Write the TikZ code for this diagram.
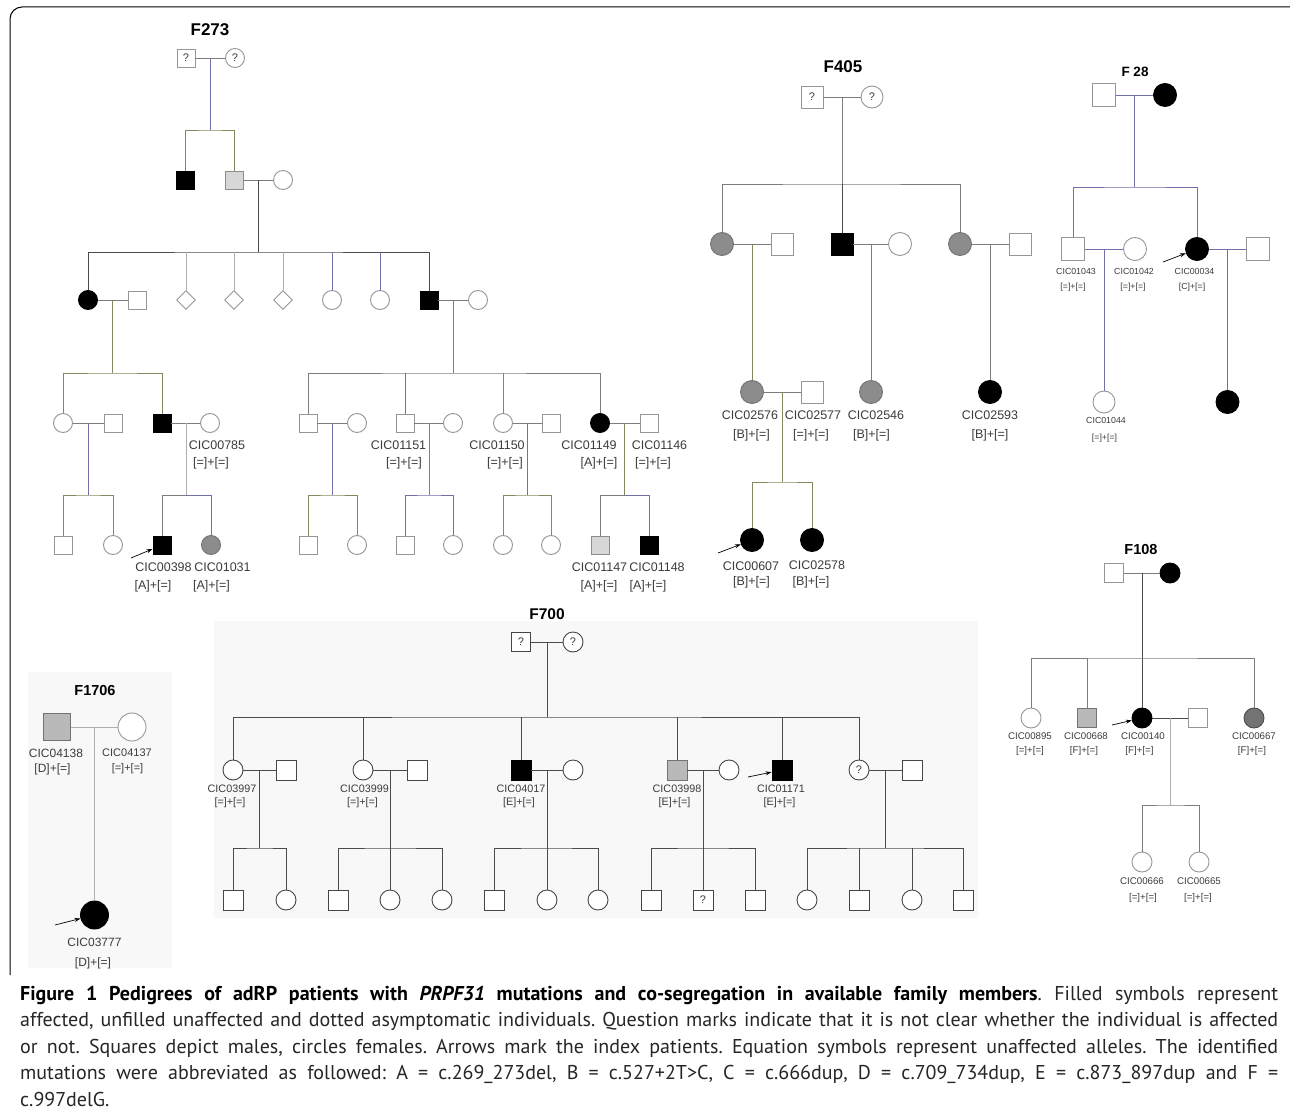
\documentclass[tikz,border=0pt]{standalone}
\usepackage{fontspec}
\setmainfont{Liberation Sans}
\newfontfamily\capfont{PT Sans}
\usetikzlibrary{shapes.geometric,arrows.meta}
\definecolor{symc}{RGB}{150,150,150}
\definecolor{symd}{RGB}{70,70,70}
\definecolor{lng}{RGB}{125,125,125}
\definecolor{lnb}{RGB}{112,112,170}
\definecolor{lno}{RGB}{135,135,95}
\definecolor{lnd}{RGB}{75,75,75}
\definecolor{lnl}{RGB}{175,175,175}
\definecolor{gA}{RGB}{140,140,140}
\definecolor{gB}{RGB}{185,185,185}
\definecolor{gC}{RGB}{215,215,215}
\definecolor{gD}{RGB}{115,115,115}
\definecolor{labc}{RGB}{60,60,60}
\definecolor{panel}{RGB}{248,248,248}
\newcommand\plab[8]{%
  \node[lab=#2] (#1i) at (#3,#4) {#5};
  \node[lab=#2] (#1g) at (#6,#7) {#8};}
\begin{document}
\frenchspacing
\begin{tikzpicture}[x=1pt,y=-1pt,
  ind/.style={draw=symc, fill=white, line width=0.9pt, inner sep=0pt, text=labc, font=\fontsize{11}{11}\selectfont},
  male/.style={ind, rectangle, minimum size=#1},
  fem/.style={ind, circle, minimum size=#1},
  unk/.style={ind, diamond, aspect=1, minimum size=#1},
  aff/.style={fill=black, draw=black},
  grA/.style={fill=gA, draw=gD},
  grB/.style={fill=gB, draw=gD},
  grC/.style={fill=gC, draw=gA},
  grD/.style={fill=gD, draw=lnd},
  rel/.style={draw=lng, line width=0.9pt},
  rb/.style={rel, draw=lnb},
  ro/.style={rel, draw=lno},
  rd/.style={rel, draw=lnd},
  rl/.style={rel, draw=lnl},
  lab/.style={font=\fontsize{#1}{#1}\selectfont, text=labc, inner sep=0pt},
  ttl/.style={font=\bfseries\fontsize{#1}{#1}\selectfont, inner sep=0pt},
  idx/.style={draw=black, line width=0.7pt, -{Stealth[length=6pt,width=4pt]}},
  capl/.style={anchor=base west, inner sep=0pt, text=black!85, font={\capfont\fontsize{20}{24}\selectfont}}
]
\useasboundingbox (0,0) rectangle (1290,1115);
\fill[white] (0,0) rectangle (1290,1115);
% panels
\fill[panel] (214,621) rectangle (978,918);
\fill[panel] (28,672) rectangle (172,968);
% frame
\draw[line width=1pt, rounded corners=12pt] (10,975) -- (10,7) -- (1290,7);

%================ F273 =================
\node[ttl=17] (t273) at (210,30) {F273};
\node[male=18pt] (a1) at (186,58) {?};
\node[fem=19pt] (a2) at (235,58) {?};
\draw[rel] (a1) -- (a2);
\coordinate (a12) at (210.5,58);
\coordinate (sa) at (210.5,130);
\draw[rb] (a12) -- (sa);
\node[male=18pt,aff] (b1) at (185,180) {};
\node[male=18pt,grC] (b2) at (234,180) {};
\node[fem=19pt] (b3) at (283,180) {};
\draw[ro] (b1) |- (sa) -| (b2);
\draw[rel] (b2) -- (b3);
\coordinate (b23) at (258.5,180);
\coordinate (sb) at (258.5,252);
\draw[rd] (b23) -- (sb);
\node[fem=19pt,aff] (c1) at (88,300) {};
\node[male=18pt] (c2) at (137,300) {};
\node[unk=19pt] (c3) at (186,300) {};
\node[unk=19pt] (c4) at (234,300) {};
\node[unk=19pt] (c5) at (283,300) {};
\node[fem=19pt] (c6) at (332,300) {};
\node[fem=19pt] (c7) at (380,300) {};
\node[male=18pt,aff] (c8) at (429,300) {};
\node[fem=19pt] (c9) at (478,300) {};
\draw[rd] (c1) |- (sb) -| (c8);
\draw[rl] (c3) -- (c3 |- sb);
\draw[rl] (c4) -- (c4 |- sb);
\draw[rl] (c5) -- (c5 |- sb);
\draw[rb] (c6) -- (c6 |- sb);
\draw[rb] (c7) -- (c7 |- sb);
\draw[rel] (c1) -- (c2);
\draw[rel] (c8) -- (c9);
\coordinate (c12) at (112.5,300);
\coordinate (sc) at (112.5,373);
\draw[ro] (c12) -- (sc);
\coordinate (c89) at (453.5,300);
\coordinate (sd) at (453.5,373);
\draw[ro] (c89) -- (sd);
% gen IV left
\node[fem=19pt] (e1) at (63,423) {};
\node[male=18pt] (e2) at (113,423) {};
\node[male=18pt,aff] (e3) at (162,423) {};
\node[fem=19pt] (e4) at (210,423) {};
\draw[ro] (e1) |- (sc) -| (e3);
\draw[rel] (e1) -- (e2);
\draw[rel] (e3) -- (e4);
\coordinate (e12) at (88,423);
\coordinate (se) at (88,495);
\draw[rb] (e12) -- (se);
\coordinate (e34) at (186,423);
\coordinate (sf) at (186,495);
\draw[rl] (e34) -- (sf);
\node[male=18pt] (f1) at (63,545) {};
\node[fem=19pt] (f2) at (113,545) {};
\draw[ro] (f1) |- (se) -| (f2);
\node[male=18pt,aff] (f3) at (162,545) {};
\node[fem=19pt,grA] (f4) at (211,545) {};
\draw[rel] (f3) |- (sf);
\draw[rb] (sf) -| (f4);
% gen IV right
\node[male=18pt] (g1) at (308,423) {};
\node[fem=19pt] (g2) at (357,423) {};
\node[male=18pt] (g3) at (405,423) {};
\node[fem=19pt] (g4) at (453,423) {};
\node[fem=19pt] (g5) at (503,423) {};
\node[male=18pt] (g6) at (551,423) {};
\node[fem=19pt,aff] (g7) at (600,423) {};
\node[male=18pt] (g8) at (649,423) {};
\draw[rel] (g1) |- (sd) -| (g7);
\draw[rb] (g3) -- (g3 |- sd);
\draw[ro] (g5) -- (g5 |- sd);
\draw[rel] (g1) -- (g2);
\draw[rel] (g3) -- (g4);
\draw[rel] (g5) -- (g6);
\draw[rel] (g7) -- (g8);
\coordinate (g12) at (332.5,423);
\coordinate (sg) at (332.5,495);
\draw[rb] (g12) -- (sg);
\coordinate (g34) at (429,423);
\coordinate (sh) at (429,495);
\draw[ro] (g34) -- (sh);
\coordinate (g56) at (527,423);
\coordinate (si) at (527,495);
\draw[rb] (g56) -- (si);
\coordinate (g78) at (624.5,423);
\coordinate (sj) at (624.5,495);
\draw[ro] (g78) -- (sj);
\node[male=18pt] (h1) at (308,545) {};
\node[fem=19pt] (h2) at (357,545) {};
\node[male=18pt] (h3) at (405,545) {};
\node[fem=19pt] (h4) at (453,545) {};
\node[fem=19pt] (h5) at (503,545) {};
\node[fem=19pt] (h6) at (551,545) {};
\node[male=18pt,grC] (h7) at (600,545) {};
\node[male=18pt,aff] (h8) at (649,545) {};
\draw[ro] (h1) |- (sg) -| (h2);
\draw[rb] (h3) |- (sh) -| (h4);
\draw[ro] (h5) |- (si) -| (h6);
\draw[rel] (h7) |- (sj);
\draw[rb] (sj) -| (h8);
\coordinate (ar1) at (131,558);
\draw[idx] (ar1) -- (f3);
\plab{L1}{12.5}{217}{445}{CIC00785}{211}{463}{[=]+[=]}
\plab{L2}{12.5}{398.5}{445}{CIC01151}{404}{463}{[=]+[=]}
\plab{L3}{12.5}{497}{445}{CIC01150}{505}{463}{[=]+[=]}
\plab{L4}{12.5}{589}{445}{CIC01149}{599}{463}{[A]+[=]}
\plab{L5}{12.5}{659.5}{445}{CIC01146}{653}{463}{[=]+[=]}
\plab{L6}{12.5}{163.5}{567}{CIC00398}{153}{586}{[A]+[=]}
\plab{L7}{12.5}{222.5}{567}{CIC01031}{211.5}{586}{[A]+[=]}
\plab{L8}{12.5}{599.5}{567}{CIC01147}{599}{586}{[A]+[=]}
\plab{L9}{12.5}{657}{567}{CIC01148}{648}{586}{[A]+[=]}

%================ F405 =================
\node[ttl=17] (t405) at (843,67) {F405};
\node[male=22pt] (p1) at (812,97) {?};
\node[fem=22pt] (p2) at (872,97) {?};
\draw[rel] (p1) -- (p2);
\coordinate (p12) at (842,97);
\coordinate (sp) at (842,184);
\draw[rel] (p12) -- (sp);
\node[fem=23pt,grA] (q1) at (722,244) {};
\node[male=22pt] (q2) at (782,244) {};
\node[male=22pt,aff] (q3) at (842,244) {};
\node[fem=23pt] (q4) at (900,244) {};
\node[fem=23pt,grA] (q5) at (960,244) {};
\node[male=22pt] (q6) at (1020,244) {};
\draw[rel] (q1) |- (sp) -| (q5);
\draw[rd] (q3) -- (q3 |- sp);
\draw[rel] (q1) -- (q2);
\draw[rel] (q3) -- (q4);
\draw[rel] (q5) -- (q6);
\coordinate (q12) at (752,244);
\coordinate (q34) at (871,244);
\coordinate (q56) at (990,244);
\node[fem=23pt,grA] (r1) at (752,392) {};
\node[male=22pt] (r2) at (812,392) {};
\node[fem=23pt,grA] (r3) at (871,392) {};
\node[fem=23pt,aff] (r4) at (990,392) {};
\draw[ro] (q12) -- (r1);
\draw[rel] (q34) -- (r3);
\draw[rel] (q56) -- (r4);
\draw[rel] (r1) -- (r2);
\coordinate (r12) at (782,392);
\coordinate (sr) at (782,482);
\draw[ro] (r12) -- (sr);
\node[fem=23pt,aff] (u1) at (752,540) {};
\node[fem=23pt,aff] (u2) at (812,540) {};
\draw[ro] (u1) |- (sr) -| (u2);
\coordinate (ar2) at (718,553);
\draw[idx] (ar2) -- (u1);
\plab{M1}{12.5}{750}{415}{CIC02576}{751.5}{435}{[B]+[=]}
\plab{M2}{12.5}{813}{415}{CIC02577}{811}{435}{[=]+[=]}
\plab{M3}{12.5}{876}{415}{CIC02546}{871.5}{435}{[B]+[=]}
\plab{M4}{12.5}{990}{415}{CIC02593}{990}{435}{[B]+[=]}
\plab{M5}{12.5}{751}{566}{CIC00607}{751.5}{582}{[B]+[=]}
\plab{M6}{12.5}{817}{565}{CIC02578}{811}{582}{[B]+[=]}

%================ F 28 =================
\node[ttl=13.5] (t28) at (1135,72) {F 28};
\node[male=23pt] (v1) at (1104,95) {};
\node[fem=23pt,aff] (v2) at (1165,95) {};
\draw[rb] (v1) -- (v2);
\coordinate (v12) at (1134.5,95);
\coordinate (sv) at (1134.5,187);
\draw[rb] (v12) -- (sv);
\node[male=23pt] (w1) at (1073,249) {};
\node[fem=23pt] (w2) at (1135,249) {};
\node[fem=23pt,aff] (w3) at (1197,249) {};
\node[male=23pt] (w4) at (1258,249) {};
\draw[rb] (w1) |- (sv) -| (w3);
\draw[rb] (w1) -- (w2);
\draw[rb] (w3) -- (w4);
\coordinate (w12) at (1104,249);
\coordinate (w34) at (1227.5,249);
\node[fem=22pt] (x1) at (1104,402) {};
\node[fem=23pt,aff] (x2) at (1227.5,402) {};
\draw[rb] (w12) -- (x1);
\draw[rb] (w34) -- (x2);
\coordinate (ar3) at (1163,262);
\draw[idx] (ar3) -- (w3);
\plab{N1}{8.8}{1076}{271}{CIC01043}{1073}{287}{[=]+[=]}
\plab{N2}{8.8}{1134}{271}{CIC01042}{1133}{287}{[=]+[=]}
\plab{N3}{8.8}{1194.5}{271}{CIC00034}{1192}{287}{[C]+[=]}
\plab{N4}{8.8}{1106}{420}{CIC01044}{1104.5}{438}{[=]+[=]}

%================ F108 =================
\node[ttl=14.5] (t108) at (1141,550) {F108};
\node[male=19pt] (y1) at (1114,573) {};
\node[fem=20pt,aff] (y2) at (1170,573) {};
\draw[rel] (y1) -- (y2);
\coordinate (y12) at (1142,573);
\coordinate (sy) at (1142,658);
\node[fem=20pt] (z1) at (1031,718) {};
\node[male=19pt,grB] (z2) at (1087,718) {};
\node[fem=20pt,aff] (z3) at (1142,718) {};
\node[male=19pt] (z4) at (1198,718) {};
\node[fem=20pt,grD] (z5) at (1254,718) {};
\draw[rd] (y12) -- (z3);
\draw[rel] (z1) |- (sy) -| (z5);
\draw[rel] (z2) -- (z2 |- sy);
\draw[rd] (z3) -- (z4);
\coordinate (z34) at (1170,718);
\coordinate (sz) at (1170,805);
\draw[rl] (z34) -- (sz);
\node[fem=20pt] (zz1) at (1142,862) {};
\node[fem=20pt] (zz2) at (1199,862) {};
\draw[rel] (zz1) |- (sz) -| (zz2);
\coordinate (ar4) at (1112,725);
\draw[idx] (ar4) -- (z3);
\plab{P1}{9.7}{1030}{736}{CIC00895}{1030}{751}{[=]+[=]}
\plab{P2}{9.7}{1086}{736}{CIC00668}{1084}{751}{[F]+[=]}
\plab{P3}{9.7}{1143}{736}{CIC00140}{1139.5}{751}{[F]+[=]}
\plab{P4}{9.7}{1254}{736}{CIC00667}{1252}{751}{[F]+[=]}
\plab{P5}{9.7}{1142}{881}{CIC00666}{1143}{898}{[=]+[=]}
\plab{P6}{9.7}{1199}{881}{CIC00665}{1198}{898}{[=]+[=]}

%================ F1706 =================
\node[ttl=14.5] (t1706) at (95,691) {F1706};
\node[male=27pt,grB] (k1) at (57,727) {};
\node[fem=28pt] (k2) at (132,727) {};
\draw[rl] (k1) -- (k2);
\coordinate (k12) at (94.5,727);
\node[fem=28pt,aff] (k3) at (94.5,915) {};
\draw[rl] (k12) -- (k3);
\coordinate (ar5) at (55,925);
\draw[idx] (ar5) -- (k3);
\plab{Q1}{12}{56}{753}{CIC04138}{52.5}{769}{[D]+[=]}
\plab{Q2}{11}{127}{753}{CIC04137}{127.5}{769}{[=]+[=]}
\plab{Q3}{12}{94.5}{942}{CIC03777}{93}{963}{[D]+[=]}

%================ F700 =================
\begin{scope}[ind/.append style={draw=symd}]
\node[ttl=15.5] (t700) at (547,614) {F700};
\node[male=19pt] (n1) at (521,642) {?};
\node[fem=20pt] (n2) at (573,642) {?};
\draw[rd] (n1) -- (n2);
\coordinate (n12) at (547,642);
\coordinate (sn) at (547,717);
\draw[rd] (n12) -- (sn);
\node[fem=20pt] (o1) at (233,770) {};
\node[male=20pt] (o2) at (286,770) {};
\node[fem=20pt] (o3) at (363,770) {};
\node[male=20pt] (o4) at (417,770) {};
\node[male=20pt,aff] (o5) at (521,770) {};
\node[fem=20pt] (o6) at (573,770) {};
\node[male=20pt,grB] (o7) at (677,770) {};
\node[fem=20pt] (o8) at (729,770) {};
\node[male=20pt,aff] (o9) at (782,770) {};
\node[fem=20pt] (o10) at (859,770) {?};
\node[male=20pt] (o11) at (912,770) {};
\draw[rd] (o1) |- (sn) -| (o10);
\draw[rd] (o3) -- (o3 |- sn);
\draw[rd] (o5) -- (o5 |- sn);
\draw[rd] (o7) -- (o7 |- sn);
\draw[rd] (o9) -- (o9 |- sn);
\draw[rd] (o1) -- (o2);
\draw[rd] (o3) -- (o4);
\draw[rd] (o5) -- (o6);
\draw[rd] (o7) -- (o8);
\draw[rd] (o10) -- (o11);
\coordinate (o12) at (259.5,770);  \coordinate (so1) at (259.5,848);
\coordinate (o34) at (390,770);    \coordinate (so2) at (390,848);
\coordinate (o56) at (547,770);    \coordinate (so3) at (547,848);
\coordinate (o78) at (703,770);    \coordinate (so4) at (703,848);
\coordinate (o1011) at (885.5,770); \coordinate (so5) at (885.5,848);
\draw[rd] (o12) -- (so1);
\draw[rd] (o34) -- (so2);
\draw[rd] (o56) -- (so3);
\draw[rd] (o78) -- (so4);
\draw[rd] (o1011) -- (so5);
\node[male=20pt] (m1) at (233,900) {};
\node[fem=20pt] (m2) at (286,900) {};
\node[male=20pt] (m3) at (338,900) {};
\node[fem=20pt] (m4) at (390,900) {};
\node[fem=20pt] (m5) at (442,900) {};
\node[male=20pt] (m6) at (494,900) {};
\node[fem=20pt] (m7) at (547,900) {};
\node[fem=20pt] (m8) at (598,900) {};
\node[male=20pt] (m9) at (651,900) {};
\node[male=20pt] (m10) at (703,900) {?};
\node[male=20pt] (m11) at (755,900) {};
\node[fem=20pt] (m12) at (807,900) {};
\node[male=20pt] (m13) at (859,900) {};
\node[fem=20pt] (m14) at (912,900) {};
\node[male=20pt] (m15) at (963,900) {};
\draw[rd] (m1) |- (so1) -| (m2);
\draw[rd] (m3) |- (so2) -| (m5);
\draw[rd] (m4) -- (m4 |- so2);
\draw[rd] (m6) |- (so3) -| (m8);
\draw[rd] (m7) -- (m7 |- so3);
\draw[rd] (m9) |- (so4) -| (m11);
\draw[rd] (m10) -- (m10 |- so4);
\draw[rd] (m12) |- (so5) -| (m15);
\draw[rd] (m13) -- (m13 |- so5);
\draw[rd] (m14) -- (m14 |- so5);
\coordinate (ar6) at (748,777);
\draw[idx] (ar6) -- (o9);
\end{scope}
\plab{R1}{10.8}{232}{789}{CIC03997}{230}{803}{[=]+[=]}
\plab{R2}{10.8}{364.5}{789}{CIC03999}{362.5}{803}{[=]+[=]}
\plab{R3}{10.8}{521}{789}{CIC04017}{519}{803}{[E]+[=]}
\plab{R4}{10.8}{677}{789}{CIC03998}{674.5}{803}{[E]+[=]}
\plab{R5}{10.8}{781}{789}{CIC01171}{779.5}{803}{[E]+[=]}

%================ caption =================
\node[capl] (cap1) at (20,1000) {\makebox[1258pt][s]{\textcolor{black}{\bfseries Figure 1 Pedigrees of adRP patients with \textit{PRPF31} mutations and co-segregation in available family members}. Filled symbols represent}};
\node[capl] (cap2) at (20,1026.5) {\makebox[1258pt][s]{affected, unfilled unaffected and dotted asymptomatic individuals. Question marks indicate that it is not clear whether the individual is affected}};
\node[capl] (cap3) at (20,1053) {\makebox[1258pt][s]{or not. Squares depict males, circles females. Arrows mark the index patients. Equation symbols represent unaffected alleles. The identified}};
\node[capl] (cap4) at (20,1079.5) {\makebox[1258pt][s]{mutations were abbreviated as followed: A = c.269\_273del, B = c.527+2T>C, C = c.666dup, D = c.709\_734dup, E = c.873\_897dup and F =}};
\node[capl] (cap5) at (20,1106) {c.997delG.};
\end{tikzpicture}
\end{document}
